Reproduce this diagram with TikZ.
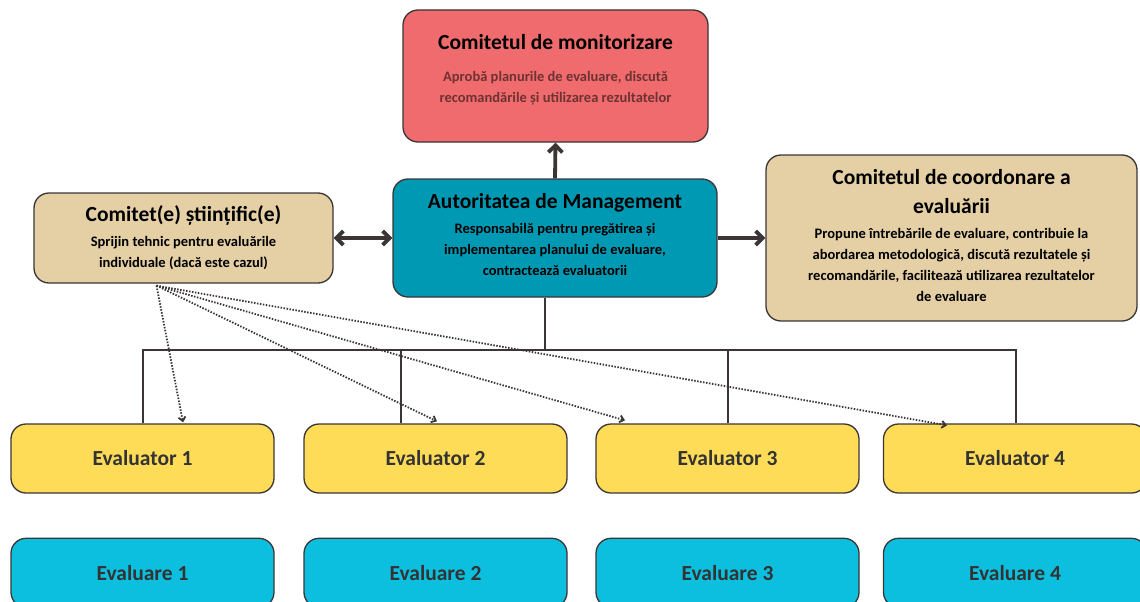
\documentclass[tikz,border=0pt]{standalone}
\usepackage{fontspec}
\setmainfont{Carlito}
\usetikzlibrary{arrows.meta, positioning}

\definecolor{monitorred}{HTML}{F06B6D}
\definecolor{monitortext}{HTML}{6E3232}
\definecolor{sandtan}{HTML}{E5D0A5}
\definecolor{mgmtteal}{HTML}{0099B4}
\definecolor{evalyellow}{HTML}{FEDC58}
\definecolor{evalcyan}{HTML}{0CBFDF}
\definecolor{linegray}{HTML}{3B3535}
\definecolor{evaltext}{HTML}{333333}

\newcommand{\boxtitle}[1]{{\fontsize{21.5}{25}\selectfont #1}}

\begin{document}
\begin{tikzpicture}[x=1pt, y=1pt,
    panel/.style={rectangle, draw=linegray, line width=1.3pt, rounded corners=15pt, align=center, font=\fontsize{14.5}{21}\selectfont\bfseries},
    evalbox/.style={panel, minimum width=263pt, minimum height=69pt, font=\fontsize{21.5}{25}\selectfont\bfseries, text=evaltext},
    bigarrow/.style={-{Straight Barb[length=7pt, width=14pt]}, line width=3.8pt, draw=linegray},
    twoway/.style={{Straight Barb[length=7pt, width=14pt]}-{Straight Barb[length=7pt, width=14pt]}, line width=3.8pt, draw=linegray},
    tree/.style={line width=2pt, draw=linegray},
    hint/.style={-{Straight Barb[length=4pt, width=7pt]}, dash pattern=on 1.5pt off 1.5pt, line width=1.8pt, draw=linegray}
]
\useasboundingbox (0,0) rectangle (1140,-602);
\clip (0,0) rectangle (1140,-602);

% ==== Committees ====
\node[panel, fill=monitorred, minimum width=305pt, minimum height=132pt] (monitor) at (555.5,-76)
    {\boxtitle{Comitetul de monitorizare}\\[11pt]
     \textcolor{monitortext}{Aprobă planurile de evaluare, discută}\\
     \textcolor{monitortext}{recomandările și utilizarea rezultatelor}\\[-6pt]\mbox{}};

\node[panel, fill=sandtan, minimum width=299pt, minimum height=90pt] (sci) at (183.5,-238)
    {\boxtitle{Comitet(e) științific(e)}\\[4pt]
     Sprijin tehnic pentru evaluările\\
     individuale (dacă este cazul)};

% ==== Managing Authority ====
\node[panel, fill=mgmtteal, minimum width=324pt, minimum height=118pt] (mgmt) at (555,-238)
    {{\fontsize{21.5}{25}\selectfont Autoritatea de Management}\\[4pt]
     Responsabilă pentru pregătirea și\\
     implementarea planului de evaluare,\\
     contractează evaluatorii\\[-14pt]\mbox{}};

\node[panel, fill=sandtan, minimum width=371pt, minimum height=166pt] (coord) at (951.5,-238)
    {\boxtitle{Comitetul de coordonare a}\\[8pt]
     \boxtitle{evaluării}\\[4pt]
     Propune întrebările de evaluare, contribuie la\\
     abordarea metodologică, discută rezultatele și\\
     recomandările, facilitează utilizarea rezultatelor\\
     de evaluare\\[-15pt]\mbox{}};

% ==== Evaluators ====
\node[evalbox, fill=evalyellow] (ev1) at (142.5,-458.5) {Evaluator 1};
\node[evalbox, fill=evalyellow] (ev2) at (435.5,-458.5) {Evaluator 2};
\node[evalbox, fill=evalyellow] (ev3) at (727.5,-458.5) {Evaluator 3};
\node[evalbox, fill=evalyellow] (ev4) at (1015,-458.5) {Evaluator 4};

% ==== Evaluations ====
\node[evalbox, fill=evalcyan, below=44pt of ev1] (eva1) {Evaluare 1};
\node[evalbox, fill=evalcyan, below=44pt of ev2] (eva2) {Evaluare 2};
\node[evalbox, fill=evalcyan, below=44pt of ev3] (eva3) {Evaluare 3};
\node[evalbox, fill=evalcyan, below=44pt of ev4] (eva4) {Evaluare 4};

% ==== Relations ====
\draw[bigarrow] (mgmt.north) -- (monitor.south);
\draw[twoway] (sci.east) -- (mgmt.west);
\draw[bigarrow] (mgmt.east) -- (coord.west);

% tree to the evaluators
\coordinate (bus) at (545,-350);
\draw[tree] (mgmt.south -| bus) -- (bus);
\draw[tree] (ev1.north) |- (bus) -| ([xshift=1pt]ev4.north);
\draw[tree] ([xshift=-34.5pt]ev2.north) -- ([xshift=-34.5pt]ev2.north |- bus);
\draw[tree] (ev3.north) -- (ev3.north |- bus);

% technical support
\coordinate (sci-foot) at ([xshift=-27pt, yshift=-2pt]sci.south);
\draw[hint] (sci-foot) -- ([xshift=40.5pt, yshift=1pt]ev1.north);
\draw[hint] (sci-foot) -- ([xshift=1.5pt, yshift=2pt]ev2.north);
\draw[hint] (sci-foot) -- ([xshift=-102.5pt, yshift=3pt]ev3.north);
\draw[hint] (sci-foot) -- ([xshift=-68pt, yshift=-2pt]ev4.north);

\end{tikzpicture}
\end{document}
